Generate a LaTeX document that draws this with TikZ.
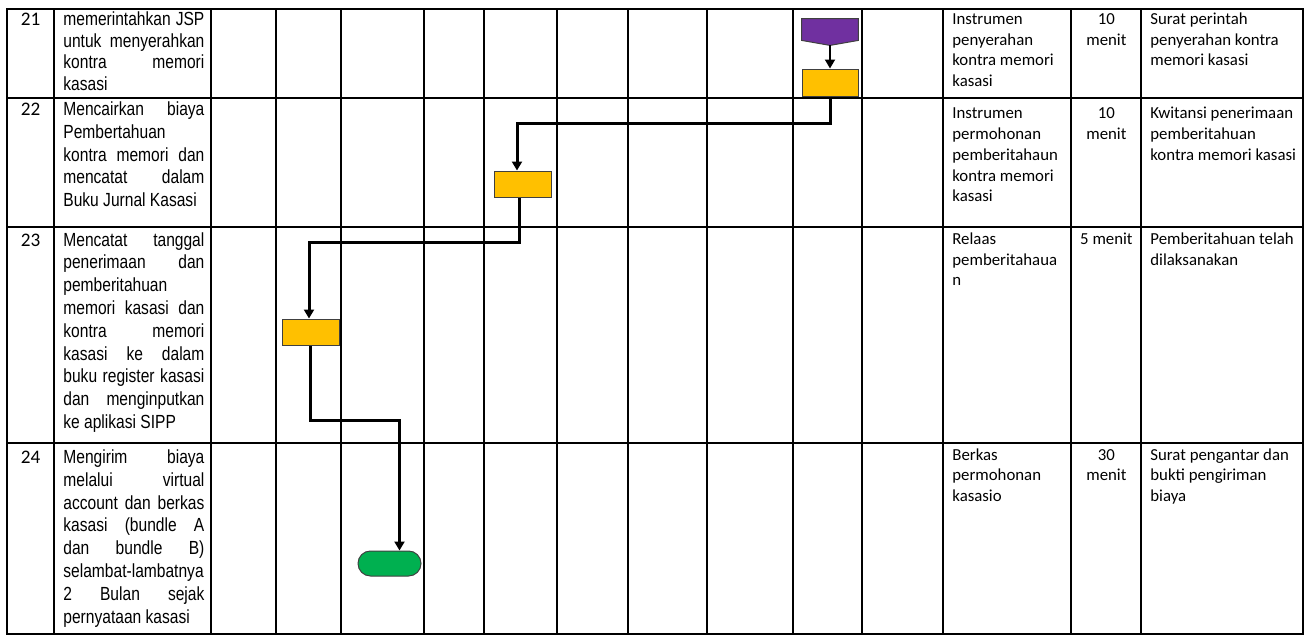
\documentclass[tikz,border=0pt]{standalone}
\usepackage{fontspec}
\setmainfont{Carlito}
\newfontfamily\arialn[FakeStretch=0.82]{Liberation Sans}
\usetikzlibrary{arrows.meta}
\definecolor{procY}{HTML}{FFC000}
\definecolor{offP}{HTML}{7030A0}
\definecolor{termG}{HTML}{00B050}
\newcommand\jline[1]{\hbox to 70.5pt{#1}}
\newcommand\pline[1]{\hbox{#1}}
\newcommand\ctrline[1]{\hbox to 35pt{\hss#1\hss}}
\newcommand\leftcell[1]{\vtop{\arialn\fontsize{9.5pt}{11.4pt}\selectfont #1}}
\newcommand\leftcelltight[1]{\vtop{\arialn\fontsize{9.5pt}{10.8pt}\selectfont #1}}
\newcommand\rightcell[1]{\vtop{\fontsize{8.4pt}{10.35pt}\selectfont #1}}
\begin{document}
\begin{tikzpicture}[x=0.5pt,y=-0.5pt,
  tbl/.style={line width=0.9pt, line cap=rect},
  txt/.style={inner sep=0pt, anchor=base west},
  num/.style={inner sep=0pt, anchor=base, font=\fontsize{9.6pt}{11pt}\selectfont},
  proc/.style={draw=black!75, line width=0.5pt, fill=procY, minimum width=28pt, minimum height=13.5pt, inner sep=0pt},
  term/.style={draw=black!75, line width=0.5pt, fill=termG, minimum width=31.5pt, minimum height=12.5pt, inner sep=0pt, rounded corners=6.2pt},
  conn/.style={line width=1.5pt, -{Triangle[length=4.5pt,width=5pt]}},
  thinconn/.style={line width=0.9pt, -{Triangle[length=4.5pt,width=5pt]}}]
\useasboundingbox (0,0) rectangle (1308,637);
\fill[white] (0,0) rectangle (1308,637);
% table grid
\foreach \x in {7,54,211,276,341,424,484,557,628,707,793,862,943,1071,1141,1303}
  \draw[tbl] (\x,9) -- (\x,634);
\foreach \y in {9,98,227,443,634}
  \draw[tbl] (7,\y) -- (1303,\y);
% numbers
\node[num] (n21) at (30.5,25.5) {21};
\node[num] (n22) at (30.5,115.5) {22};
\node[num] (n23) at (30.5,246) {23};
\node[num] (n24) at (30.5,463.5) {24};
% activities
\node[txt] (d21) at (63,25.5) {\leftcelltight{\jline{memerintahkan JSP}\jline{untuk menyerahkan}\jline{kontra memori}\pline{kasasi}}};
\node[txt] (d22) at (63,115.5) {\leftcell{\jline{Mencairkan biaya}\pline{Pembertahuan}\jline{kontra memori dan}\jline{mencatat dalam}\pline{Buku Jurnal Kasasi}}};
\node[txt] (d23) at (63,246) {\leftcell{\jline{Mencatat tanggal}\jline{penerimaan dan}\pline{pemberitahuan}\jline{memori kasasi dan}\jline{kontra memori}\jline{kasasi ke dalam}\jline{buku register kasasi}\jline{dan menginputkan}\pline{ke aplikasi SIPP}}};
\node[txt] (d24) at (63,463.5) {\leftcell{\jline{Mengirim biaya}\jline{melalui virtual}\jline{account dan berkas}\jline{kasasi (bundle A}\jline{dan bundle B)}\pline{selambat-lambatnya}\jline{2 Bulan sejak}\pline{pernyataan kasasi}}};
% instruments
\node[txt] (i21) at (952,24.5) {\rightcell{\pline{Instrumen}\pline{penyerahan}\pline{kontra memori}\pline{kasasi}}};
\node[txt] (i22) at (952,119) {\rightcell{\pline{Instrumen}\pline{permohonan}\pline{pemberitahaun}\pline{kontra memori}\pline{kasasi}}};
\node[txt] (i23) at (952,244.5) {\rightcell{\pline{Relaas}\pline{pemberitahaua}\pline{n}}};
\node[txt] (i24) at (952,460) {\rightcell{\pline{Berkas}\pline{permohonan}\pline{kasasio}}};
% times
\node[txt] (w21) at (1071,24.5) {\rightcell{\ctrline{10}\ctrline{menit}}};
\node[txt] (w22) at (1071,119) {\rightcell{\ctrline{10}\ctrline{menit}}};
\node[txt] (w23) at (1071,244.5) {\rightcell{\ctrline{5 menit}}};
\node[txt] (w24) at (1071,460) {\rightcell{\ctrline{30}\ctrline{menit}}};
% outputs
\node[txt] (o21) at (1150,24.5) {\rightcell{\pline{Surat perintah}\pline{penyerahan kontra}\pline{memori kasasi}}};
\node[txt] (o22) at (1150,119) {\rightcell{\pline{Kwitansi penerimaan}\pline{pemberitahuan}\pline{kontra memori kasasi}}};
\node[txt] (o23) at (1150,244.5) {\rightcell{\pline{Pemberitahuan telah}\pline{dilaksanakan}}};
\node[txt] (o24) at (1150,460) {\rightcell{\pline{Surat pengantar dan}\pline{bukti pengiriman}\pline{biaya}}};
% flow shapes
\node[minimum width=28pt, minimum height=13pt, inner sep=0pt] (off) at (830,32) {};
\draw[draw=black!75, line width=0.5pt, fill=offP] (off.north west) -- (off.north east) -- ([yshift=2.5pt]off.south east) -- (off.south) -- ([yshift=2.5pt]off.south west) -- cycle;
\node[proc] (p1) at (830,82.5) {};
\node[proc, minimum width=28.5pt, minimum height=13pt] (p2) at (522.5,184) {};
\node[proc, minimum width=28.5pt, minimum height=13pt] (p3) at (310.5,332) {};
\node[term] (t1) at (389.5,563.5) {};
% connectors
\draw[thinconn] (off.south) -- (p1.north);
\draw[conn] (p1.south) -- ++(0,27) -| ([xshift=-2.75pt]p2.north);
\draw[conn] ([xshift=-1.75pt]p2.south) -- ++(0,45) -| ([xshift=-0.75pt]p3.north);
\draw[conn] (p3.south) -- ++(0,75) -| ([xshift=5pt]t1.north);
\end{tikzpicture}
\end{document}
